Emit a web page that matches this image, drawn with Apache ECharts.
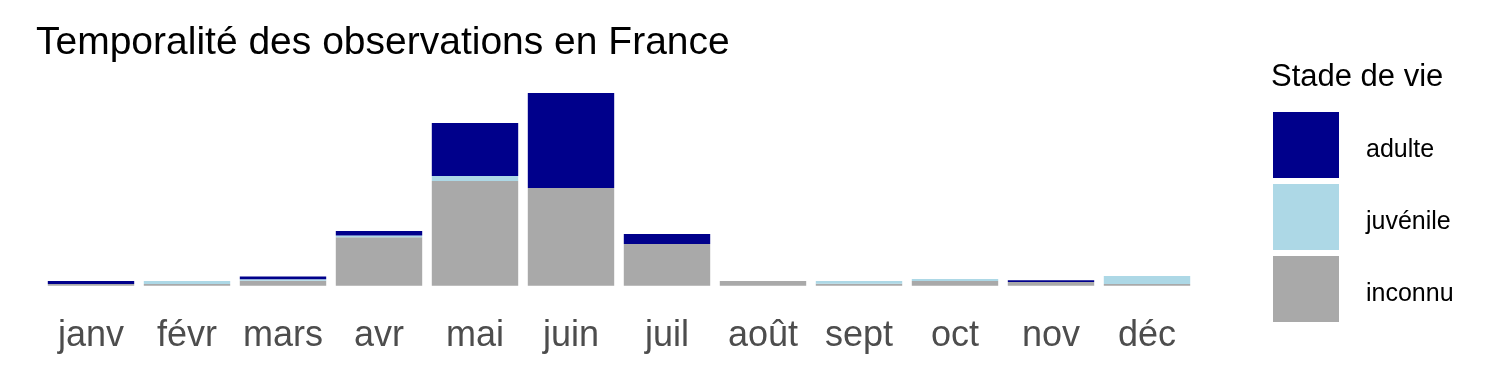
<!DOCTYPE html>
<html>
<head>
<meta charset="utf-8">
<script src="https://cdn.jsdelivr.net/npm/echarts@6/dist/echarts.min.js"></script>
<style>
html,body{margin:0;padding:0;background:#fff;}
#chart{width:1500px;height:375px;}
</style>
</head>
<body>
<div id="chart"></div>
<script>
var months = ['janv','févr','mars','avr','mai','juin','juil','août','sept','oct','nov','déc'];
var inconnu  = [1.7, 1.7, 5, 48.4, 104.7, 97.7, 41.7, 4.7, 2, 4.7, 3.7, 1.7];
var juvenile = [0, 3, 1.5, 1.7, 5, 0, 0, 0, 2.7, 2, 0, 8];
var adulte   = [3, 0, 2.7, 4.7, 53, 95, 10, 0, 0, 0, 1.7, 0];

var chart = echarts.init(document.getElementById('chart'));
var font = 'Liberation Sans, Arial, sans-serif';
chart.setOption({
  animation: false,
  backgroundColor: '#ffffff',
  title: [
    {text: 'Temporalité des observations en France', left: 31, top: 19,
     textStyle: {fontFamily: font, fontSize: 39, fontWeight: 'normal', color: '#000'}},
    {text: 'Stade de vie', left: 1266, top: 57,
     textStyle: {fontFamily: font, fontSize: 31, fontWeight: 'normal', color: '#000'}}
  ],
  legend: {
    orient: 'vertical', left: 1268, top: 107,
    itemWidth: 66, itemHeight: 66, itemGap: 6, icon: 'rect',
    data: ['adulte','juvénile','inconnu'],
    formatter: '{s|}\n{a|{name}}',
    textStyle: {fontFamily: font, fontSize: 25, color: '#000', padding: [0,0,0,22],
      rich: {
        s: {height: 10, lineHeight: 10, fontSize: 10},
        a: {fontFamily: font, fontSize: 25, lineHeight: 28, color: '#000'}
      }}
  },
  grid: {left: 43, width: 1152, top: 85.7, bottom: 89.3, containLabel: false},
  xAxis: {
    type: 'category', data: months,
    axisLine: {show: false}, axisTick: {show: false}, splitLine: {show: false},
    axisLabel: {fontFamily: font, fontSize: 36, color: '#4D4D4D', margin: 32, interval: 0}
  },
  yAxis: {type: 'value', min: 0, max: 200, show: false, splitLine: {show: false}},
  series: [
    {name: 'inconnu', type: 'bar', stack: 'a', data: inconnu, barWidth: '90%', itemStyle: {color: '#A9A9A9'}},
    {name: 'juvénile', type: 'bar', stack: 'a', data: juvenile, barWidth: '90%', itemStyle: {color: '#ADD8E6'}},
    {name: 'adulte', type: 'bar', stack: 'a', data: adulte, barWidth: '90%', itemStyle: {color: '#00008B'}}
  ]
});
</script>
</body>
</html>
